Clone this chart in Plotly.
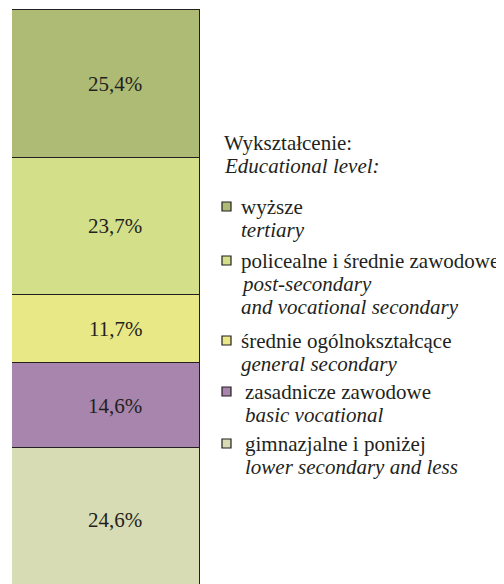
import plotly.graph_objects as go

# shares of population by education level, bottom -> top of the stacked bar
levels_pl = ['gimnazjalne i poniżej', 'zasadnicze zawodowe', 'średnie ogólnokształcące',
             'policealne i średnie zawodowe', 'wyższe']
levels_en = [['lower secondary and less'], ['basic vocational'], ['general secondary'],
             ['post-secondary', 'and vocational secondary'], ['tertiary']]
shares = [24.6, 14.6, 11.7, 23.7, 25.4]
share_labels = ['24,6%', '14,6%', '11,7%', '23,7%', '25,4%']
colors = ['#d7dcb4', '#a785ac', '#e9e886', '#d3e089', '#aebb74']

FONT = 'Liberation Serif'
INK = '#231f20'
OFF = 8            # page body margin
W, H = 504 - OFF, 584 - OFF
TOP = 1


def fx(pix):
    # page pixel column -> paper x
    return (pix - OFF) / W


def py(pix):
    # page pixel row -> paper y
    return (H - (pix - OFF)) / (H - TOP)


txt = dict(family=FONT, size=21, color=INK)

fig = go.Figure()
for name, val, col in zip(levels_pl, shares, colors):
    fig.add_trace(go.Bar(
        x=['edu'], y=[val], name=name,
        marker=dict(color=col, line=dict(color=INK, width=1.5)),
        hoverinfo='name+y', showlegend=False,
    ))

# value labels in the middle of each segment
base = 0
for val, lab in zip(shares, share_labels):
    fig.add_annotation(x='edu', y=base + val / 2, text=lab, showarrow=False,
                       xshift=9, font=txt)
    base += val

# hand-made legend on the right
fig.add_annotation(x=fx(222), y=py(143), xref='paper', yref='paper', xanchor='left', yanchor='middle',
                   text='Wykształcenie:', showarrow=False, font=txt)
fig.add_annotation(x=fx(222), y=py(166), xref='paper', yref='paper', xanchor='left', yanchor='middle',
                   text='<i>Educational level:</i>', showarrow=False, font=txt)

first_rows = [444, 392, 341, 261, 207]
text_x = [243, 243, 239, 239, 239]
for i in range(len(levels_pl)):
    y0 = first_rows[i]
    fig.add_shape(type='rect', xref='paper', yref='paper',
                  x0=fx(222), x1=fx(231), y0=py(y0 + 4), y1=py(y0 - 5),
                  fillcolor=colors[i], line=dict(color=INK, width=1.2))
    fig.add_annotation(x=fx(text_x[i]), y=py(y0), xref='paper', yref='paper',
                       xanchor='left', yanchor='middle', text=levels_pl[i], showarrow=False,
                       font=txt)
    for j, en in enumerate(levels_en[i]):
        fig.add_annotation(x=fx(text_x[i]), y=py(y0 + 23 * (j + 1)), xref='paper', yref='paper',
                           xanchor='left', yanchor='middle', text='<i>' + en + '</i>', showarrow=False,
                           font=txt)

fig.update_xaxes(domain=[fx(12), fx(200)], showticklabels=False, showgrid=False,
                 zeroline=False, showline=False)
fig.update_yaxes(range=[1.2, 100.17], showticklabels=False, showgrid=False,
                 zeroline=False, showline=False)
fig.update_layout(
    barmode='stack',
    bargap=0,
    width=W, height=H,
    margin=dict(t=TOP, b=0, l=0, r=0, pad=0),
    paper_bgcolor='white',
    plot_bgcolor='white',
)
fig.write_html('out.html')
